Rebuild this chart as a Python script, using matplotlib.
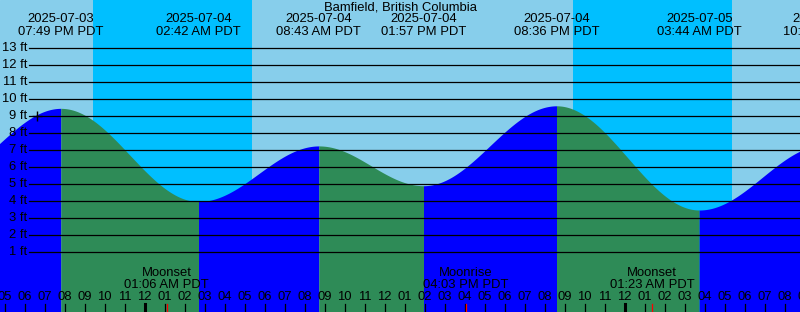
import numpy as np
import pandas as pd
import matplotlib
matplotlib.use('Agg')
import matplotlib.pyplot as plt

# Tide extremes (PDT)
tide_times = ['2025-07-03 13:35', '2025-07-03 19:49', '2025-07-04 02:42', '2025-07-04 08:43',
              '2025-07-04 13:57', '2025-07-04 20:36', '2025-07-05 03:44', '2025-07-05 10:02']
tide_heights = [5.2, 9.45, 3.97, 7.24, 4.9, 9.6, 3.47, 7.3]

# Sun: night spans (sunset, sunrise)
sunsets = ['2025-07-03 21:25', '2025-07-04 21:25']
sunrises = ['2025-07-04 05:23', '2025-07-05 05:23']

# Moon events
moon_times = ['2025-07-04 01:06', '2025-07-04 16:03', '2025-07-05 01:23']
moon_names = ['Moonset', 'Moonrise', 'Moonset']

# "now" marker
now_time = '2025-07-03 18:37'

ref = pd.Timestamp('2025-07-04 00:00')


def hrs(s):
    return (pd.Timestamp(s) - ref).total_seconds() / 3600.0


def fmt_time(s):
    return pd.Timestamp(s).strftime('%I:%M %p PDT')


th = np.array([hrs(t) for t in tide_times])
hh = np.array(tide_heights)

W, H = 800, 312
fig = plt.figure(figsize=(W / 100, H / 100), dpi=100)
ax = fig.add_axes([0, 0, 1, 1])
ax.set_axis_off()

# pixel mapping: x = 144.5 + 20*h, 17 px per ft, 0 ft at y=269
x0 = -144.5 / 20
x1 = x0 + W / 20
ax.set_xlim(x0, x1)
ax.set_ylim((269 - H) / 17, 269 / 17)

fs = 9.4
font = 'Liberation Sans'

# background: day / night
ax.axvspan(x0, x1, color='#87CEEB', zorder=0)
for a, b in zip(sunsets, sunrises):
    ax.axvspan(hrs(a), hrs(b), color='#00BFFF', zorder=1, lw=0)

# tide curve: cosine between extremes, coloured by rising / falling
bottom = (269 - H) / 17 - 1
for i in range(len(th) - 1):
    t = np.linspace(th[i], th[i + 1], 200)
    f = (t - th[i]) / (th[i + 1] - th[i])
    y = hh[i] + (hh[i + 1] - hh[i]) * (1 - np.cos(np.pi * f)) / 2
    col = '#0000FF' if hh[i + 1] > hh[i] else '#2E8B57'
    ax.fill_between(t, bottom, y, color=col, lw=0, zorder=2)

# depth grid lines + labels
for ft in range(1, 14):
    ax.axhline(ft, xmin=29 / W, xmax=1, color='black', lw=0.9, zorder=3)
    ax.text(27 / W, ft, f'{ft} ft', transform=ax.get_yaxis_transform(),
            ha='right', va='center', fontsize=fs, family=font, zorder=4)

# now marker
tn = hrs(now_time)
ax.plot([tn], [9.0], marker='+', color='black', ms=7, mew=1.0, zorder=5)

xt = ax.get_xaxis_transform()

# title
ax.text(0.5, 1 - 7.5 / H, 'Bamfield, British Columbia', transform=ax.transAxes,
        ha='center', va='center', fontsize=fs, family=font, zorder=6)

# tide extreme labels (the first extreme is off the left edge)
for t, s in zip(th[1:], tide_times[1:]):
    ax.text(t, 1 - 19.5 / H, pd.Timestamp(s).strftime('%Y-%m-%d'), transform=xt,
            ha='center', va='center', fontsize=fs, family=font, zorder=6)
    ax.text(t, 1 - 32 / H, fmt_time(s), transform=xt,
            ha='center', va='center', fontsize=fs, family=font, zorder=6)

# moon labels
for t, n in zip(moon_times, moon_names):
    ax.text(hrs(t), 1 - 273.5 / H, n, transform=xt, ha='center', va='center',
            fontsize=fs, family=font, zorder=6)
    ax.text(hrs(t), 1 - 285.5 / H, fmt_time(t), transform=xt, ha='center', va='center',
            fontsize=fs, family=font, zorder=6)

# hour ticks and labels
for h in range(int(np.floor(x0)), int(np.ceil(x1)) + 1):
    lab = (ref + pd.Timedelta(hours=h)).strftime('%I')
    ax.text(h, 1 - 297.5 / H, lab, transform=xt, ha='center', va='center',
            fontsize=fs, family=font, zorder=6)
    lw = 2.2 if h % 24 == 0 else 0.9
    ax.plot([h, h], [0, 8 / H], transform=xt, color='black', lw=lw, zorder=6)

for t in moon_times:
    ax.plot([hrs(t)] * 2, [0, 8 / H], transform=xt, color='red', lw=0.9, zorder=7)

fig.savefig('out.png', dpi=100)
